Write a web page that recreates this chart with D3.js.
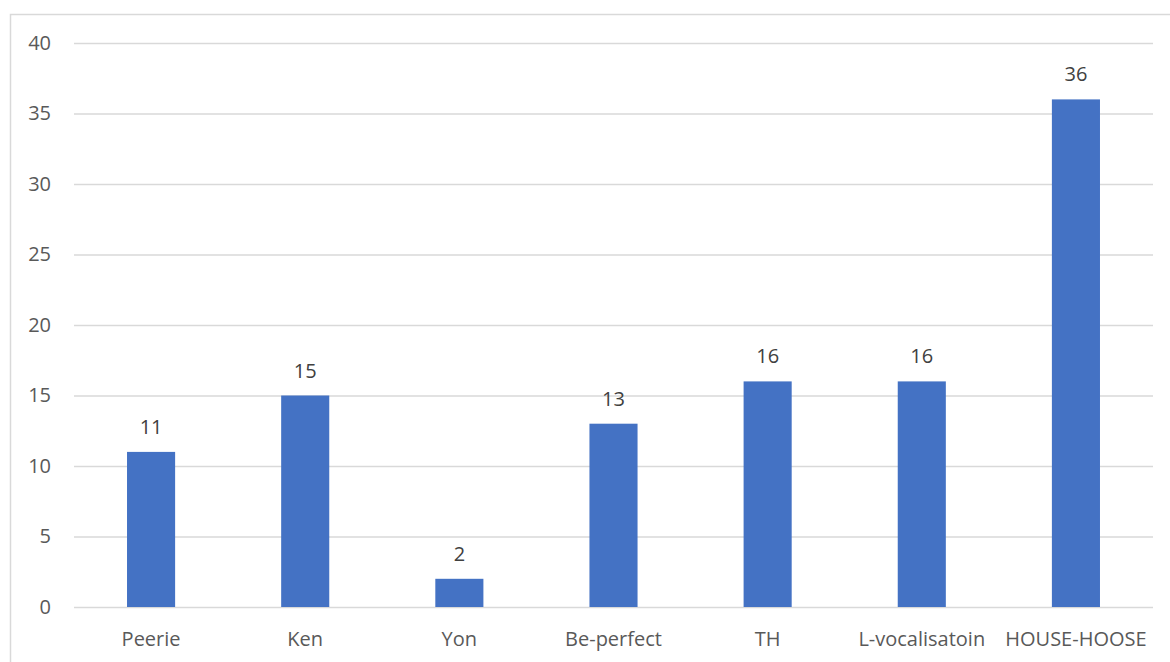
<!DOCTYPE html>
<html>
<head>
<meta charset="utf-8">
<script src="https://cdn.jsdelivr.net/npm/d3@7"></script>
<style>
  html, body { margin: 0; padding: 0; background: #fff; }
  svg { display: block; }
</style>
</head>
<body>
<svg id="chart" width="1170" height="662"></svg>
<script>
// Category names and counts
const categories = ["Peerie", "Ken", "Yon", "Be-perfect", "TH", "L-vocalisatoin", "HOUSE-HOOSE"];
const counts = [11, 15, 2, 13, 16, 16, 36];
const yTicks = [0, 5, 10, 15, 20, 25, 30, 35, 40];

const W = 1170, H = 662;
const plot = { left: 74, right: 1153, top: 43, bottom: 607 };
const font = "'Open Sans', 'Liberation Sans', sans-serif";
const fontSize = "20px";

const svg = d3.select("#chart");

// Outer chart frame
svg.append("rect")
  .attr("x", 10.5).attr("y", 14.5)
  .attr("width", W).attr("height", H)
  .attr("fill", "#fff")
  .attr("stroke", "#d9d9d9").attr("stroke-width", 1.5);

const x = d3.scaleBand()
  .domain(categories)
  .range([plot.left, plot.right])
  .paddingInner(0.688).paddingOuter(0.344);

const y = d3.scaleLinear().domain([0, 40]).range([plot.bottom, plot.top]);

// Horizontal gridlines with value labels
const yAxis = d3.axisLeft(y).tickValues(yTicks).tickSize(-(plot.right - plot.left)).tickPadding(23);
const gy = svg.append("g").attr("transform", `translate(${plot.left},0)`).call(yAxis);
gy.select(".domain").remove();
gy.selectAll(".tick line").attr("stroke", "#d9d9d9").attr("stroke-width", 1.3);
gy.selectAll(".tick text")
  .attr("fill", "#595959").style("font-family", font).style("font-size", fontSize);

// Bars
svg.append("g").selectAll("rect")
  .data(categories)
  .join("rect")
  .attr("x", d => x(d))
  .attr("width", x.bandwidth())
  .attr("y", (d, i) => y(counts[i]))
  .attr("height", (d, i) => y(0) - y(counts[i]))
  .attr("fill", "#4472c4");

// Value labels above bars
svg.append("g").selectAll("text")
  .data(categories)
  .join("text")
  .attr("x", d => x(d) + x.bandwidth() / 2)
  .attr("y", (d, i) => y(counts[i]) - 18)
  .attr("text-anchor", "middle")
  .attr("fill", "#404040")
  .style("font-family", font).style("font-size", fontSize)
  .text((d, i) => counts[i]);

// Category axis labels
const gx = svg.append("g");
gx.selectAll("text")
  .data(categories)
  .join("text")
  .attr("x", d => x(d) + x.bandwidth() / 2)
  .attr("y", plot.bottom + 39)
  .attr("text-anchor", "middle")
  .attr("fill", "#595959")
  .style("font-family", font).style("font-size", fontSize)
  .text(d => d);
</script>
</body>
</html>
